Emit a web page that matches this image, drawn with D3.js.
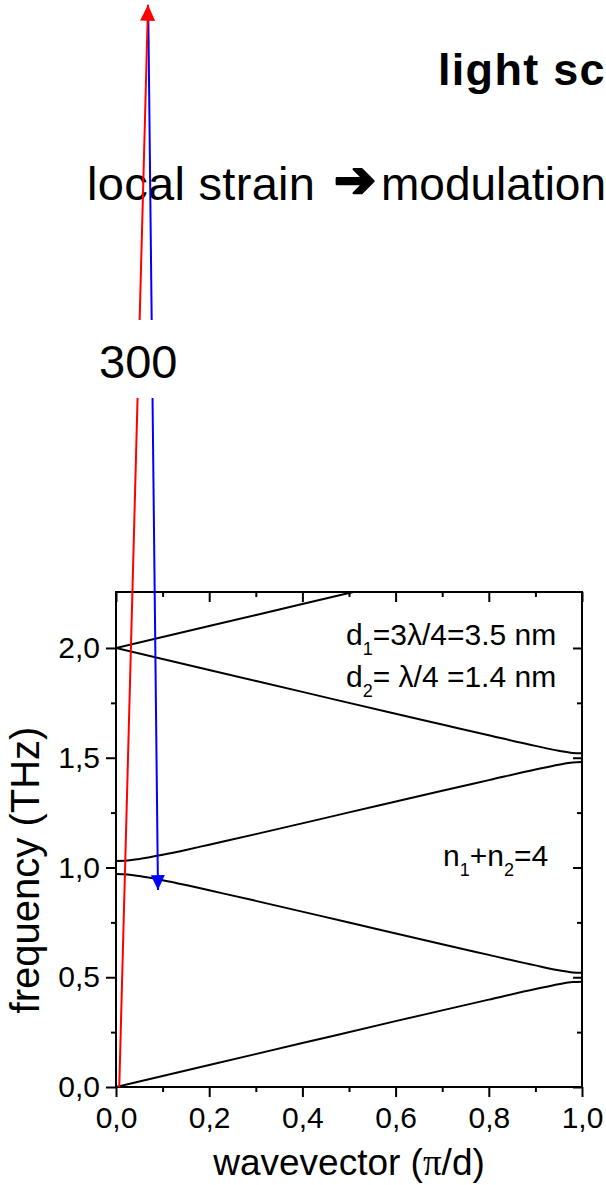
<!DOCTYPE html>
<html>
<head>
<meta charset="utf-8">
<script src="https://cdn.jsdelivr.net/npm/d3@7/dist/d3.min.js"></script>
<style>
  html, body { margin: 0; padding: 0; background: #fff; }
  svg { display: block; }
  text { font-family: "Liberation Sans", Arial, sans-serif; fill: #000; }
</style>
</head>
<body>
<svg id="chart" width="606" height="1185"></svg>
<script>
// Folded acoustic phonon branches of the superlattice: [wavevector (pi/d), frequency (THz)]
const branch1 = [[0, 0], [0.2, 0.1], [0.4, 0.2], [0.6, 0.3], [0.7, 0.349], [0.8, 0.398], [0.9, 0.446], [0.95, 0.468], [0.98, 0.478], [1, 0.48]];
const branch2 = [[0, 0.97], [0.025, 0.968], [0.05, 0.961], [0.1, 0.942], [0.15, 0.92], [0.2, 0.896], [0.3, 0.848], [0.5, 0.749], [0.7, 0.65], [0.8, 0.602], [0.9, 0.554], [0.95, 0.532], [0.98, 0.522], [1, 0.52]];
const branch3 = [[0, 1.03], [0.025, 1.032], [0.05, 1.039], [0.1, 1.058], [0.15, 1.08], [0.2, 1.104], [0.3, 1.152], [0.5, 1.251], [0.7, 1.35], [0.8, 1.398], [0.9, 1.446], [0.95, 1.468], [0.98, 1.478], [1, 1.48]];
const branch4 = [[0, 2.0], [0.2, 1.9], [0.4, 1.8], [0.6, 1.7], [0.7, 1.651], [0.8, 1.602], [0.9, 1.554], [0.95, 1.532], [0.98, 1.522], [1, 1.52]];
const branch5 = [[0, 2.0], [0.2, 2.1], [0.4, 2.2], [0.6, 2.3]];
const branches = [branch1, branch2, branch3, branch4, branch5];

// Incident (red) and scattered (blue) light lines
const incidentLight = [[0.007, 0], [0.0687, 4.93]];
const scatteredLight = [[0.0693, 4.885], [0.0901, 0.897]];

// Axis ticks
const xMajorTicks = [0, 0.2, 0.4, 0.6, 0.8, 1.0];
const xMinorTicks = [0.1, 0.3, 0.5, 0.7, 0.9];
const yMajorTicks = [0, 0.5, 1.0, 1.5, 2.0];
const yMinorTicks = [0.25, 0.75, 1.25, 1.75];
const xDomain = [0, 1];
const yDomain = [0, 2.255];

const svg = d3.select("#chart");
const plotL = 116, plotR = 582, plotT = 592, plotB = 1087;

const x = d3.scaleLinear().domain(xDomain).range([plotL, plotR]);
const y = d3.scaleLinear().domain(yDomain).range([plotB, plotT]);

const commaFmt = d3.formatLocale({ decimal: ",", thousands: ".", grouping: [3], currency: ["", ""] }).format(".1f");

// Axes
function styleAxis(g) {
  g.select(".domain").remove();
  g.selectAll(".tick line").attr("stroke", "#000").attr("stroke-width", 2);
  g.selectAll(".tick text").style("font-size", "30px").attr("fill", "#000")
    .style("font-family", '"Liberation Sans", Arial, sans-serif');
}

svg.append("g").attr("transform", `translate(0,${plotB})`)
  .call(d3.axisBottom(x).tickValues(xMajorTicks).tickSize(10).tickPadding(10).tickFormat(commaFmt)).call(styleAxis);
svg.append("g").attr("transform", `translate(0,${plotB})`)
  .call(d3.axisBottom(x).tickValues(xMinorTicks).tickSize(5).tickFormat("")).call(styleAxis);
svg.append("g").attr("transform", `translate(0,${plotT})`)
  .call(d3.axisTop(x).tickValues(xMajorTicks).tickSize(-10).tickFormat("")).call(styleAxis);
svg.append("g").attr("transform", `translate(0,${plotT})`)
  .call(d3.axisTop(x).tickValues(xMinorTicks).tickSize(-5).tickFormat("")).call(styleAxis);

svg.append("g").attr("transform", `translate(${plotL},0)`)
  .call(d3.axisLeft(y).tickValues(yMajorTicks).tickSize(10).tickPadding(6).tickFormat(commaFmt)).call(styleAxis);
svg.append("g").attr("transform", `translate(${plotL},0)`)
  .call(d3.axisLeft(y).tickValues(yMinorTicks).tickSize(5).tickFormat("")).call(styleAxis);
svg.append("g").attr("transform", `translate(${plotR},0)`)
  .call(d3.axisRight(y).tickValues(yMajorTicks).tickSize(-9).tickFormat("")).call(styleAxis);
svg.append("g").attr("transform", `translate(${plotR},0)`)
  .call(d3.axisRight(y).tickValues(yMinorTicks).tickSize(-5).tickFormat("")).call(styleAxis);

// Frame
svg.append("rect")
  .attr("x", plotL).attr("y", plotT).attr("width", plotR - plotL).attr("height", plotB - plotT)
  .attr("fill", "none").attr("stroke", "#000").attr("stroke-width", 2);

// Dispersion curves, clipped to the plot area
svg.append("clipPath").attr("id", "plotClip").append("rect")
  .attr("x", plotL).attr("y", plotT).attr("width", plotR - plotL).attr("height", plotB - plotT);

const line = d3.line().x(d => x(d[0])).y(d => y(d[1])).curve(d3.curveMonotoneX);
svg.append("g").attr("clip-path", "url(#plotClip)")
  .selectAll("path").data(branches).join("path")
  .attr("d", line).attr("fill", "none").attr("stroke", "#000").attr("stroke-width", 2);

// Axis titles
const xTitle = svg.append("text").attr("x", (plotL + plotR) / 2).attr("y", 1175)
  .attr("text-anchor", "middle").style("font-size", "37px");
xTitle.append("tspan").text("wavevector (");
xTitle.append("tspan").style("font-family", '"Liberation Serif", serif').text("π");
xTitle.append("tspan").text("/d)");
svg.append("text").attr("transform", "translate(39,870) rotate(-90)")
  .attr("text-anchor", "middle").style("font-size", "40px").text("frequency (THz)");

// Annotations inside the plot
function subText(xp, yp, parts) {
  const t = svg.append("text").attr("x", xp).attr("y", yp).style("font-size", "30px");
  let shifted = false;
  parts.forEach(p => {
    const sp = t.append("tspan").text(p.t);
    if (p.sub) { sp.style("font-size", "18px").attr("dy", 10); shifted = true; }
    else if (shifted) { sp.attr("dy", -10); shifted = false; }
  });
}
subText(346, 645, [{ t: "d" }, { t: "1", sub: true }, { t: "=3λ/4=3.5 nm" }]);
subText(346, 687, [{ t: "d" }, { t: "2", sub: true }, { t: "= λ/4 =1.4 nm" }]);
subText(443, 866, [{ t: "n" }, { t: "1", sub: true }, { t: "+n" }, { t: "2", sub: true }, { t: "=4" }]);

// Header texts
svg.append("text").attr("x", 438).attr("y", 85).style("font-size", "45px").style("font-weight", "bold")
  .style("letter-spacing", "1.3px").text("light sc");
svg.append("text").attr("x", 87).attr("y", 200).style("font-size", "47px")
  .style("letter-spacing", "0.3px").text("local strain");
svg.append("text").attr("x", 334).attr("y", 197).style("font-size", "50px")
  .style("font-family", '"DejaVu Sans", sans-serif')
  .attr("stroke", "#000").attr("stroke-width", 2.5).attr("stroke-linejoin", "round").text("➔");
svg.append("text").attr("x", 381).attr("y", 200).style("font-size", "46px").text("modulation");

// Arrow markers
const defs = svg.append("defs");
[["redHead", "#ff0000", 16, 15], ["blueHead", "#0000ff", 15, 14]].forEach(([id, col, len, wid]) => {
  defs.append("marker").attr("id", id).attr("markerUnits", "userSpaceOnUse")
    .attr("viewBox", `0 0 ${len} ${wid}`).attr("markerWidth", len).attr("markerHeight", wid)
    .attr("refX", len).attr("refY", wid / 2).attr("orient", "auto")
    .append("path").attr("d", `M0,0L${len},${wid / 2}L0,${wid}Z`).attr("fill", col);
});

const straight = d3.line().x(d => x(d[0])).y(d => y(d[1]));
svg.append("path").attr("d", straight(scatteredLight)).attr("fill", "none")
  .attr("stroke", "#0000ff").attr("stroke-width", 2).attr("marker-end", "url(#blueHead)");
svg.append("path").attr("d", straight(incidentLight)).attr("fill", "none")
  .attr("stroke", "#ff0000").attr("stroke-width", 2).attr("marker-end", "url(#redHead)");

// "300" label on a white background
svg.append("rect").attr("x", 94).attr("y", 320).attr("width", 90).attr("height", 78).attr("fill", "#fff");
svg.append("text").attr("x", 99).attr("y", 378).style("font-size", "47px").text("300");
</script>
</body>
</html>
